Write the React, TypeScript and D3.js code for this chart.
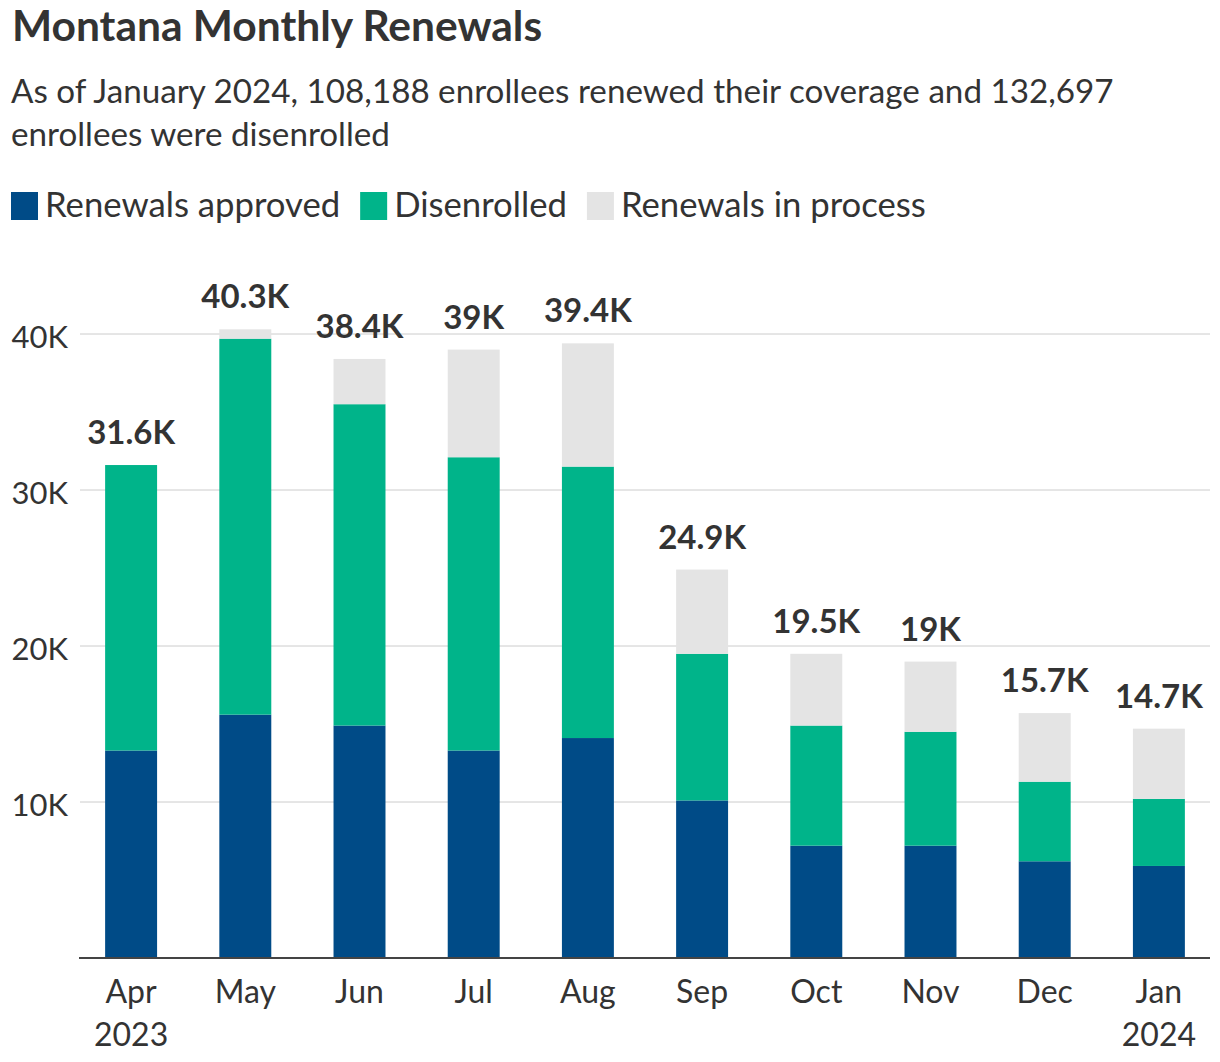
import * as React from 'react';
import * as d3 from 'd3';

const months = ["Apr", "May", "Jun", "Jul", "Aug", "Sep", "Oct", "Nov", "Dec", "Jan"];
const years = ["2023", "", "", "", "", "", "", "", "", "2024"];
const approved = [13300, 15600, 14900, 13300, 14100, 10100, 7200, 7200, 6200, 5900];
const disenrolled = [18300, 24100, 20600, 18800, 17400, 9400, 7700, 7300, 5100, 4300];
const inProcess = [0, 600, 2900, 6900, 7900, 5400, 4600, 4500, 4400, 4500];
const yTicks = [10000, 20000, 30000, 40000];

const seriesNames = ["Renewals approved", "Disenrolled", "Renewals in process"];
const seriesColors = ["#004b87", "#00b48a", "#e4e4e4"];

type Row = { month: string, year: string, approved: number, disenrolled: number, inProcess: number };

const rows: Row[] = months.map((m, i) => ({
    month: m,
    year: years[i],
    approved: approved[i],
    disenrolled: disenrolled[i],
    inProcess: inProcess[i],
}));

const FONT = "Lato, 'Noto Sans', sans-serif";
const TEXT = "#333333";

const App = () => {
    const ref = React.useRef<SVGSVGElement>(null);
    const dim = { width: 1220, height: 1062, left: 80, right: 1210, top: 334, bottom: 958 };

    React.useEffect(() => {
        const svg = d3.select(ref.current);
        svg.selectAll("*").remove();

        // header
        svg.append("text")
            .attr("x", 12).attr("y", 41)
            .attr("font-size", 42.5).attr("font-weight", 700)
            .attr("fill", TEXT)
            .text("Montana Monthly Renewals");

        const sub = svg.append("text")
            .attr("font-size", 33.2).attr("fill", TEXT);
        sub.append("tspan").attr("x", 11).attr("y", 103)
            .text("As of January 2024, 108,188 enrollees renewed their coverage and 132,697");
        sub.append("tspan").attr("x", 11).attr("y", 146)
            .text("enrollees were disenrolled");

        // legend
        let lx = 11;
        seriesNames.forEach((name, i) => {
            const g = svg.append("g").attr("transform", `translate(${lx}, 192)`);
            g.append("rect").attr("width", 27).attr("height", 28).attr("fill", seriesColors[i]);
            const t = g.append("text")
                .attr("x", 34).attr("y", 25)
                .attr("font-size", 34.7).attr("fill", TEXT)
                .text(name);
            const w = (t.node() as SVGTextElement).getComputedTextLength();
            lx += 34 + w + 20;
        });

        const x = d3.scaleBand<string>()
            .domain(months)
            .range([dim.left, dim.right])
            .paddingInner(0.545)
            .paddingOuter(0.22);

        const y = d3.scaleLinear()
            .domain([0, 40000])
            .range([dim.bottom, dim.top]);

        // grid
        const grid = svg.append("g");
        grid.selectAll("line")
            .data(yTicks)
            .join("line")
            .attr("x1", dim.left).attr("x2", dim.right)
            .attr("y1", d => y(d)).attr("y2", d => y(d))
            .attr("stroke", "#cccccc").attr("stroke-width", 1);
        grid.selectAll("text")
            .data(yTicks)
            .join("text")
            .attr("x", 68).attr("y", d => y(d) + 14)
            .attr("text-anchor", "end")
            .attr("font-size", 31).attr("fill", TEXT)
            .text(d => d3.format("~s")(d).replace("k", "K"));

        const stack = d3.stack<Row>()
            .keys(["approved", "disenrolled", "inProcess"]);
        const layers = stack(rows);

        svg.append("g")
            .selectAll("g")
            .data(layers)
            .join("g")
            .attr("fill", (_, i) => seriesColors[i])
            .selectAll("rect")
            .data(d => d)
            .join("rect")
            .attr("x", d => x(d.data.month)!)
            .attr("width", x.bandwidth())
            .attr("y", d => y(d[1]))
            .attr("height", d => y(d[0]) - y(d[1]));

        // totals
        svg.append("g")
            .selectAll("text")
            .data(rows)
            .join("text")
            .attr("x", d => x(d.month)! + x.bandwidth() / 2)
            .attr("y", d => y(d.approved + d.disenrolled + d.inProcess) - 21)
            .attr("text-anchor", "middle")
            .attr("font-size", 33).attr("font-weight", 700)
            .attr("fill", TEXT)
            .text(d => d3.format(".3~s")(d.approved + d.disenrolled + d.inProcess).replace("k", "K"));

        // x axis
        svg.append("line")
            .attr("x1", dim.left - 1).attr("x2", dim.right)
            .attr("y1", dim.bottom).attr("y2", dim.bottom)
            .attr("stroke", "#444444").attr("stroke-width", 2);

        const xl = svg.append("g")
            .selectAll("text")
            .data(rows)
            .join("text")
            .attr("text-anchor", "middle")
            .attr("font-size", 32).attr("fill", TEXT);
        xl.append("tspan")
            .attr("x", d => x(d.month)! + x.bandwidth() / 2)
            .attr("y", 1003)
            .text(d => d.month);
        xl.filter(d => d.year !== "")
            .append("tspan")
            .attr("x", d => x(d.month)! + x.bandwidth() / 2)
            .attr("y", 1046)
            .text(d => d.year);
    }, []);

    return (
        <>
            <style>{"body{margin:0}"}</style>
            <svg ref={ref} width={dim.width} height={dim.height} fontFamily={FONT} style={{ display: "block" }}></svg>
        </>
    );
};

export default App;
